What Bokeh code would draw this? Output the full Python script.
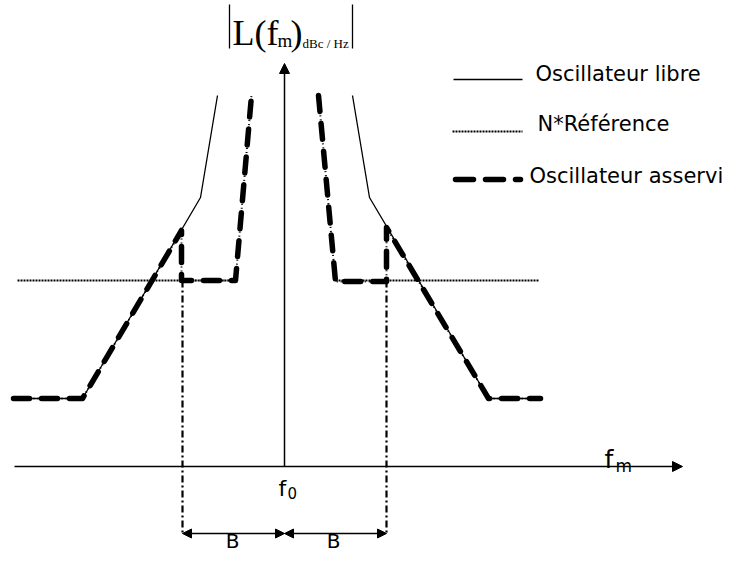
from bokeh.plotting import figure
from bokeh.models import Range1d, Arrow, NormalHead
from bokeh.core.properties import value
from bokeh.embed import file_html
from bokeh.resources import INLINE

# ---- data (diagram coordinates: x to the right, y downward like the drawing) ----
free_left_x = [13, 82, 200, 217]
free_left_y = [398, 398, 197, 95]
free_right_x = [352, 369, 488, 540]
free_right_y = [95, 197, 398, 398]

lock_left_x = [13, 82, 181, 181, 235, 251]
lock_left_y = [398, 398, 230, 280, 280, 95]
lock_right_x = [318, 335, 386, 386, 488, 540]
lock_right_y = [95, 281, 281, 227, 398, 398]

ref_left_x = [17, 235]
ref_right_x = [335, 539]
ref_level = 280

band_x = [182, 386]
band_top = 280
band_bottom = 533
f0_x = 284
axis_y = 466
axis_x_start = 14
axis_x_end = 682
axis_y_top = 63

legend_labels = ["Oscillateur libre", "N*Référence", "Oscillateur asservi"]
legend_y = [79, 131, 179]
band_labels = ["B", "B"]
band_label_x = [232, 333]

FONT = "DejaVu Sans"
SERIF = "Liberation Serif"

p = figure(width=728, height=552, output_backend="svg", toolbar_location=None,
           x_range=Range1d(0, 728), y_range=Range1d(552, 0), min_border=0)
p.axis.visible = False
p.grid.visible = False
p.outline_line_color = None
p.background_fill_color = "white"
p.border_fill_color = "white"

# reference (dotted)
for xs in (ref_left_x, ref_right_x):
    p.line(xs, [ref_level, ref_level], line_color="black", line_width=2.2, line_dash="2 1")

# free oscillator (thin solid)
p.line(free_left_x, free_left_y, line_color="black", line_width=1.3)
p.line(free_right_x, free_right_y, line_color="black", line_width=1.3)

# locked oscillator: thin dotted under thick dashes
for xs, ys in ((lock_left_x, lock_left_y), (lock_right_x, lock_right_y)):
    p.line(xs, ys, line_color="black", line_width=2, line_dash="1 3")
    p.line(xs, ys, line_color="black", line_width=5.5, line_dash="16 12",
           line_cap="round", line_join="round")

# band markers (dash-dot)
for bx in band_x:
    p.line([bx, bx], [band_top, band_bottom], line_color="black", line_width=2.2, line_dash="7 3 2 3")

# axes
p.line([axis_x_start, axis_x_end - 8], [axis_y, axis_y], line_color="black", line_width=1.5)
p.add_layout(Arrow(end=NormalHead(size=10, fill_color="black", line_color="black"),
                   x_start=axis_x_end - 10, y_start=axis_y, x_end=axis_x_end, y_end=axis_y,
                   line_color="black", line_width=1.5))
p.line([f0_x, f0_x], [axis_y, axis_y_top + 8], line_color="black", line_width=1.5)
p.add_layout(Arrow(end=NormalHead(size=10, fill_color="black", line_color="black"),
                   x_start=f0_x, y_start=axis_y_top + 10, x_end=f0_x, y_end=axis_y_top,
                   line_color="black", line_width=1.5))

# B double arrows
for xa, xb in ((band_x[0], f0_x), (f0_x, band_x[1])):
    p.add_layout(Arrow(start=NormalHead(size=9, fill_color="black", line_color="black"),
                       end=NormalHead(size=9, fill_color="black", line_color="black"),
                       x_start=xa, y_start=band_bottom, x_end=xb, y_end=band_bottom,
                       line_color="black", line_width=1.5))

# legend samples
p.line([453, 522], [legend_y[0], legend_y[0]], line_color="black", line_width=1.5)
p.line([452, 522], [legend_y[1], legend_y[1]], line_color="black", line_width=2.2, line_dash="2 1")
p.line([455, 520], [legend_y[2], legend_y[2]], line_color="black", line_width=5.5,
       line_dash="18 12", line_cap="round")
p.text([535, 537, 529], [73, 123, 175], text=legend_labels, text_font=value(FONT),
       text_font_size="21px", text_baseline="middle", text_align="left", text_color="black")

# axis labels
p.text([278], [488], text=["f"], text_font=value(FONT), text_font_size="22px",
       text_baseline="middle", text_color="black")
p.text([287], [492], text=["0"], text_font=value(FONT), text_font_size="15px",
       text_baseline="middle", text_color="black")
p.text([604], [459], text=["f"], text_font=value(FONT), text_font_size="25px",
       text_baseline="middle", text_color="black")
p.text([615], [465], text=["m"], text_font=value(FONT), text_font_size="17px",
       text_baseline="middle", text_color="black")
p.text(band_label_x, [540, 540], text=band_labels, text_font=value(FONT), text_font_size="20px",
       text_baseline="middle", text_align="center", text_color="black")

# title |L(f_m)_dBc/Hz|
p.line([229, 229], [4, 48], line_color="black", line_width=1.3)
p.line([352, 352], [4, 48], line_color="black", line_width=1.3)
p.text([232], [32], text=["L(f"], text_font=value(SERIF), text_font_size="36px",
       text_baseline="middle", text_color="black")
p.text([277], [40], text=["m"], text_font=value(SERIF), text_font_size="19px",
       text_baseline="middle", text_color="black")
p.text([290], [32], text=[")"], text_font=value(SERIF), text_font_size="36px",
       text_baseline="middle", text_color="black")
p.text([302], [43], text=["dBc / Hz"], text_font=value(SERIF), text_font_size="13px",
       text_baseline="middle", text_color="black")

open("out.html", "w").write(file_html(p, INLINE))
